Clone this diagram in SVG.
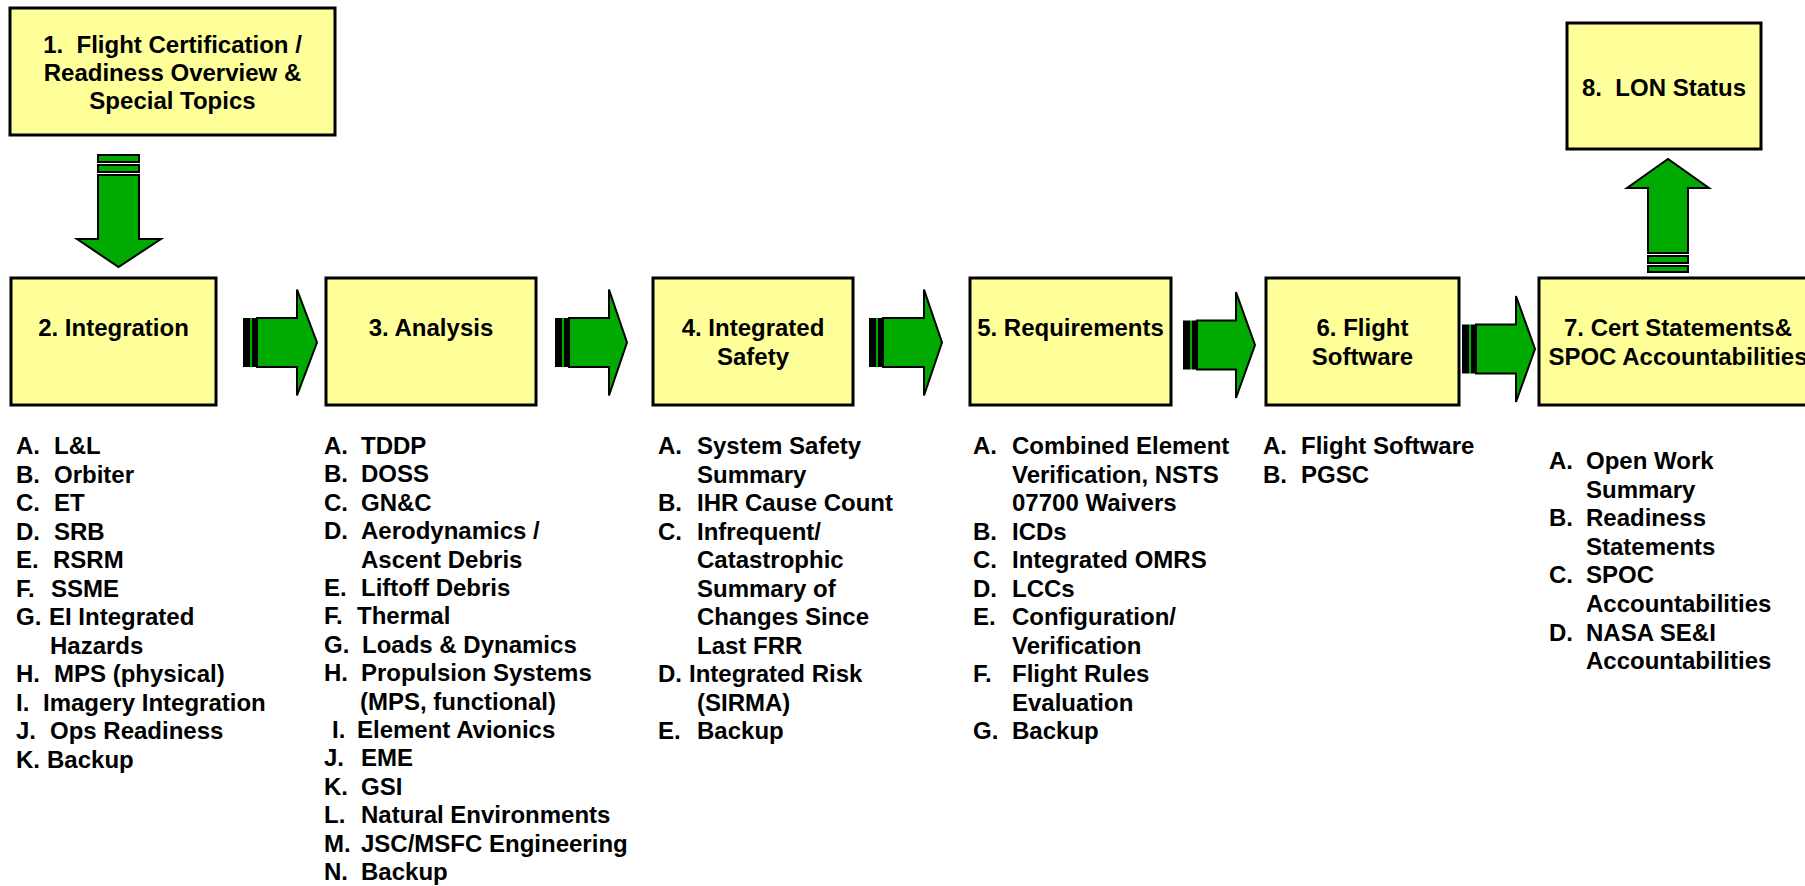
<svg xmlns="http://www.w3.org/2000/svg" width="1805" height="886" viewBox="0 0 1805 886">
<style>
.box{fill:#FFFF99;stroke:#000;stroke-width:3}
.ar{fill:#00AA00;stroke:#000;stroke-width:2;stroke-linejoin:miter}
.st{fill:#00AA00;stroke:#000;stroke-width:2}
.bk{fill:#000}
.gr{fill:#00AA00}
text{font-family:"Liberation Sans",Arial,Helvetica,sans-serif;font-weight:bold;font-size:24px;fill:#000}
.c{text-anchor:middle}
</style>
<rect width="1805" height="886" fill="#fff"/>

<g id="connectors">
  <g id="arrow-1-2">
    <rect class="st" x="98" y="155" width="41" height="7"/>
    <rect class="st" x="98" y="165" width="41" height="7"/>
    <path class="ar" d="M98,175 H139 V239 H161 L118.5,267 L77,239 H98 Z"/>
  </g>
  <g id="arrow-7-8">
    <path class="ar" d="M1648,253 V188 H1627 L1668,159 L1709,188 H1688 V253 Z"/>
    <rect class="st" x="1648" y="256" width="40" height="7"/>
    <rect class="st" x="1648" y="266" width="40" height="6"/>
  </g>
  <g id="arrow-2-3">
    <rect class="bk" x="243" y="318" width="7" height="49"/>
    <rect class="gr" x="250" y="318" width="2" height="49"/>
    <rect class="bk" x="252" y="318" width="5" height="49"/>
    <path class="ar" d="M257,318 H297 V289.5 L317,342.5 L297,395.5 V367 H257 Z"/>
  </g>
  <g id="arrow-3-4">
    <rect class="bk" x="555" y="318" width="7" height="49"/>
    <rect class="gr" x="562" y="318" width="2" height="49"/>
    <rect class="bk" x="564" y="318" width="5" height="49"/>
    <path class="ar" d="M569,318 H609 V289.5 L627,342.5 L609,395.5 V367 H569 Z"/>
  </g>
  <g id="arrow-4-5">
    <rect class="bk" x="869" y="318" width="7" height="49"/>
    <rect class="gr" x="876" y="318" width="2" height="49"/>
    <rect class="bk" x="878" y="318" width="5" height="49"/>
    <path class="ar" d="M883,318 H924 V289.5 L942,342.5 L924,395.5 V367 H883 Z"/>
  </g>
  <g id="arrow-5-6">
    <rect class="bk" x="1183" y="320.5" width="7" height="49"/>
    <rect class="gr" x="1190" y="320.5" width="2" height="49"/>
    <rect class="bk" x="1192" y="320.5" width="5" height="49"/>
    <path class="ar" d="M1197,320.5 H1236 V292 L1255,345 L1236,398 V369.5 H1197 Z"/>
  </g>
  <g id="arrow-6-7">
    <rect class="bk" x="1462" y="324.5" width="7" height="49"/>
    <rect class="gr" x="1469" y="324.5" width="2" height="49"/>
    <rect class="bk" x="1471" y="324.5" width="5" height="49"/>
    <path class="ar" d="M1476,324.5 H1516 V296 L1535,349 L1516,402 V373.5 H1476 Z"/>
  </g>
</g>

<g id="node-1">
  <rect class="box" x="10" y="8" width="325" height="127"/>
  <text class="c" x="172.5" y="53" xml:space="preserve">1.  Flight Certification /</text>
  <text class="c" x="172.5" y="81">Readiness Overview &amp;</text>
  <text class="c" x="172.5" y="109">Special Topics</text>
</g>

<g id="node-2">
  <rect class="box" x="11" y="278" width="205" height="127"/>
  <text class="c" x="113.5" y="336">2. Integration</text>
  <text><tspan x="16" y="454">A.</tspan><tspan x="54">L&amp;L</tspan></text>
  <text><tspan x="16" y="482.5">B.</tspan><tspan x="54">Orbiter</tspan></text>
  <text><tspan x="16" y="511">C.</tspan><tspan x="54">ET</tspan></text>
  <text><tspan x="16" y="539.5">D.</tspan><tspan x="54">SRB</tspan></text>
  <text><tspan x="16" y="568">E.</tspan><tspan x="53">RSRM</tspan></text>
  <text><tspan x="16" y="596.5">F.</tspan><tspan x="51">SSME</tspan></text>
  <text><tspan x="16" y="625">G.</tspan><tspan x="49">EI Integrated</tspan></text>
  <text x="50" y="653.5">Hazards</text>
  <text><tspan x="16" y="682">H.</tspan><tspan x="54">MPS (physical)</tspan></text>
  <text><tspan x="16" y="710.5">I.</tspan><tspan x="43">Imagery Integration</tspan></text>
  <text><tspan x="16" y="739">J.</tspan><tspan x="50">Ops Readiness</tspan></text>
  <text><tspan x="16" y="767.5">K.</tspan><tspan x="47">Backup</tspan></text>
</g>

<g id="node-3">
  <rect class="box" x="326" y="278" width="210" height="127"/>
  <text class="c" x="431" y="336">3. Analysis</text>
  <text><tspan x="324" y="454">A.</tspan><tspan x="361">TDDP</tspan></text>
  <text><tspan x="324" y="482.4">B.</tspan><tspan x="361">DOSS</tspan></text>
  <text><tspan x="324" y="510.8">C.</tspan><tspan x="361">GN&amp;C</tspan></text>
  <text><tspan x="324" y="539.2">D.</tspan><tspan x="361">Aerodynamics /</tspan></text>
  <text x="361" y="567.6">Ascent Debris</text>
  <text><tspan x="324" y="596">E.</tspan><tspan x="361">Liftoff Debris</tspan></text>
  <text><tspan x="324" y="624.4">F.</tspan><tspan x="357">Thermal</tspan></text>
  <text><tspan x="324" y="652.8">G.</tspan><tspan x="362">Loads &amp; Dynamics</tspan></text>
  <text><tspan x="324" y="681.2">H.</tspan><tspan x="361">Propulsion Systems</tspan></text>
  <text x="360" y="709.6">(MPS, functional)</text>
  <text><tspan x="332" y="738">I.</tspan><tspan x="357">Element Avionics</tspan></text>
  <text><tspan x="324" y="766.4">J.</tspan><tspan x="361">EME</tspan></text>
  <text><tspan x="324" y="794.8">K.</tspan><tspan x="361">GSI</tspan></text>
  <text><tspan x="324" y="823.2">L.</tspan><tspan x="361">Natural Environments</tspan></text>
  <text><tspan x="324" y="851.6">M.</tspan><tspan x="361">JSC/MSFC Engineering</tspan></text>
  <text><tspan x="324" y="880">N.</tspan><tspan x="361">Backup</tspan></text>
</g>

<g id="node-4">
  <rect class="box" x="653" y="278" width="200" height="127"/>
  <text class="c" x="753" y="336">4. Integrated</text>
  <text class="c" x="753" y="365">Safety</text>
  <text><tspan x="658" y="454">A.</tspan><tspan x="697">System Safety</tspan></text>
  <text x="697" y="482.5">Summary</text>
  <text><tspan x="658" y="511">B.</tspan><tspan x="697">IHR Cause Count</tspan></text>
  <text><tspan x="658" y="539.5">C.</tspan><tspan x="697">Infrequent/</tspan></text>
  <text x="697" y="568">Catastrophic</text>
  <text x="697" y="596.5">Summary of</text>
  <text x="697" y="625">Changes Since</text>
  <text x="697" y="653.5">Last FRR</text>
  <text><tspan x="658" y="682">D.</tspan><tspan x="689">Integrated Risk</tspan></text>
  <text x="697" y="710.5">(SIRMA)</text>
  <text><tspan x="658" y="739">E.</tspan><tspan x="697">Backup</tspan></text>
</g>

<g id="node-5">
  <rect class="box" x="970" y="278" width="201" height="127"/>
  <text class="c" x="1070.5" y="336">5. Requirements</text>
  <text><tspan x="973" y="454">A.</tspan><tspan x="1012">Combined Element</tspan></text>
  <text x="1012" y="482.5">Verification, NSTS</text>
  <text x="1012" y="511">07700 Waivers</text>
  <text><tspan x="973" y="539.5">B.</tspan><tspan x="1012">ICDs</tspan></text>
  <text><tspan x="973" y="568">C.</tspan><tspan x="1012">Integrated OMRS</tspan></text>
  <text><tspan x="973" y="596.5">D.</tspan><tspan x="1012">LCCs</tspan></text>
  <text><tspan x="973" y="625">E.</tspan><tspan x="1012">Configuration/</tspan></text>
  <text x="1012" y="653.5">Verification</text>
  <text><tspan x="973" y="682">F.</tspan><tspan x="1012">Flight Rules</tspan></text>
  <text x="1012" y="710.5">Evaluation</text>
  <text><tspan x="973" y="739">G.</tspan><tspan x="1012">Backup</tspan></text>
</g>

<g id="node-6">
  <rect class="box" x="1266" y="278" width="193" height="127"/>
  <text class="c" x="1362.5" y="336">6. Flight</text>
  <text class="c" x="1362.5" y="365">Software</text>
  <text><tspan x="1263" y="454">A.</tspan><tspan x="1301">Flight Software</tspan></text>
  <text><tspan x="1263" y="482.5">B.</tspan><tspan x="1301">PGSC</tspan></text>
</g>

<g id="node-7">
  <rect class="box" x="1539" y="278" width="280" height="127"/>
  <text class="c" x="1678" y="336">7. Cert Statements&amp;</text>
  <text class="c" x="1678" y="365">SPOC Accountabilities</text>
  <text><tspan x="1549" y="469">A.</tspan><tspan x="1586">Open Work</tspan></text>
  <text x="1586" y="497.6">Summary</text>
  <text><tspan x="1549" y="526.2">B.</tspan><tspan x="1586">Readiness</tspan></text>
  <text x="1586" y="554.8">Statements</text>
  <text><tspan x="1549" y="583.4">C.</tspan><tspan x="1586">SPOC</tspan></text>
  <text x="1586" y="612">Accountabilities</text>
  <text><tspan x="1549" y="640.6">D.</tspan><tspan x="1586">NASA SE&amp;I</tspan></text>
  <text x="1586" y="669.2">Accountabilities</text>
</g>

<g id="node-8">
  <rect class="box" x="1567" y="23" width="194" height="126"/>
  <text class="c" x="1664" y="96" xml:space="preserve">8.  LON Status</text>
</g>
</svg>
